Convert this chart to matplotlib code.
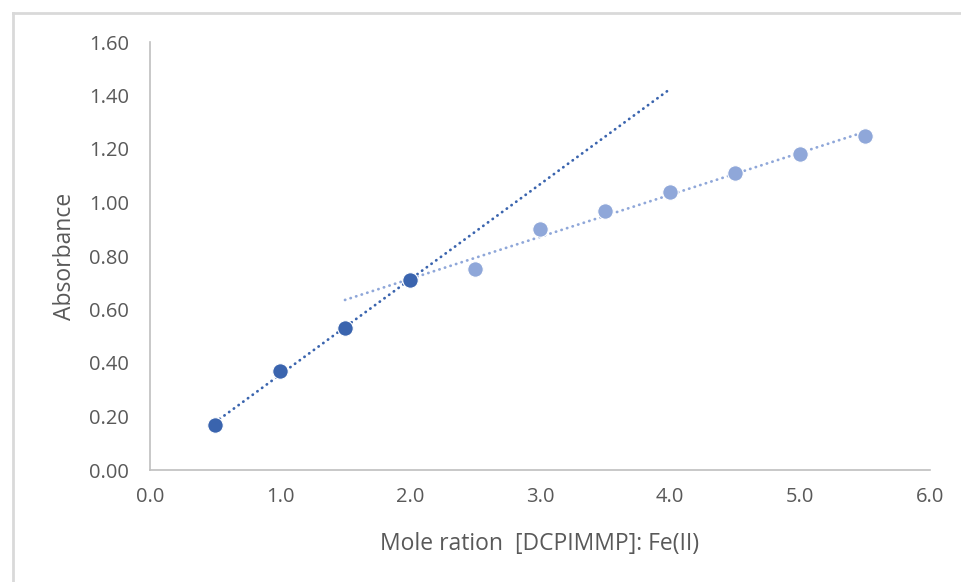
import numpy as np
import matplotlib
matplotlib.use("Agg")
import matplotlib.pyplot as plt
from matplotlib.lines import Line2D

plt.rcParams['font.family'] = ['Open Sans', 'DejaVu Sans']

x_dark = [0.5, 1.0, 1.5, 2.0]
y_dark = [0.17, 0.37, 0.53, 0.71]
x_light = [2.5, 3.0, 3.5, 4.0, 4.5, 5.0, 5.5]
y_light = [0.75, 0.90, 0.97, 1.04, 1.11, 1.18, 1.25]

x_ticks = [0, 1, 2, 3, 4, 5, 6]
y_ticks = [0, 0.2, 0.4, 0.6, 0.8, 1.0, 1.2, 1.4, 1.6]

dark = '#3A64AE'
light = '#8FA7D9'
gray_txt = '#595959'

W, H = 962, 582
fig = plt.figure(figsize=(W/100, H/100), dpi=100)
ax = fig.add_axes([150/W, 1-470/H, 780/W, 428/H])

# trendlines (linear fits, Excel-style forecast)
p1 = np.polyfit(x_dark, y_dark, 1)
xt1 = np.array([min(x_dark), max(x_dark) + 2.0])
ax.plot(xt1, np.polyval(p1, xt1), color=dark, lw=2.0, linestyle=(0, (0.1, 2.0)),
        dash_capstyle='round', zorder=2)
p2 = np.polyfit(x_light, y_light, 1)
xt2 = np.array([min(x_light) - 1.0, max(x_light)])
ax.plot(xt2, np.polyval(p2, xt2), color=light, lw=2.0, linestyle=(0, (0.1, 2.0)),
        dash_capstyle='round', zorder=2)

ax.scatter(x_dark, y_dark, s=125, color=dark, edgecolors='white', linewidths=0.8, zorder=3)
ax.scatter(x_light, y_light, s=125, color=light, edgecolors='white', linewidths=0.8, zorder=3)

ax.set_xlim(0, 6)
ax.set_ylim(0, 1.6)
ax.set_xticks(x_ticks)
ax.set_yticks(y_ticks)
ax.set_xticklabels([f"{v:.1f}" for v in x_ticks])
ax.set_yticklabels([f"{v:.2f}" for v in y_ticks])
ax.tick_params(length=0, labelsize=14.5, colors=gray_txt)
ax.tick_params(axis='y', pad=15)
ax.tick_params(axis='x', pad=12)
for s in ['top', 'right']:
    ax.spines[s].set_visible(False)
for s in ['left', 'bottom']:
    ax.spines[s].set_color('#bfbfbf')
    ax.spines[s].set_linewidth(1.2)

ax.set_xlabel("Mole ration  [DCPIMMP]: Fe(II)", fontsize=16.5, color=gray_txt, labelpad=18)
ax.set_ylabel("Absorbance", fontsize=16.5, color=gray_txt, labelpad=9)

# outer chart border (partly cropped)
fig.add_artist(Line2D([12.5/W, 12.5/W], [0, 1-13/H], transform=fig.transFigure,
                      color='#d9d9d9', lw=2))
fig.add_artist(Line2D([12.5/W, 1], [1-13/H, 1-13/H], transform=fig.transFigure,
                      color='#d9d9d9', lw=2))

fig.savefig("out.png", dpi=100)
